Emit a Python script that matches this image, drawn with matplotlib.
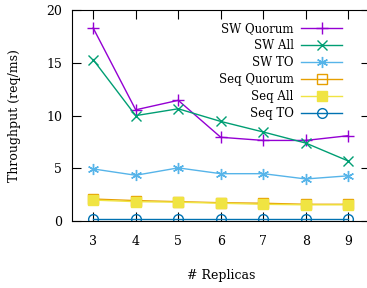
import matplotlib
matplotlib.use("Agg")
import matplotlib.pyplot as plt

plt.rcParams['font.family'] = ['DejaVu Serif']

replicas = [3, 4, 5, 6, 7, 8, 9]
sw_quorum = [18.3, 10.55, 11.45, 7.95, 7.65, 7.65, 8.1]
sw_all = [15.3, 10.0, 10.65, 9.45, 8.45, 7.4, 5.7]
sw_to = [4.95, 4.35, 5.05, 4.5, 4.5, 4.0, 4.3]
seq_quorum = [2.1, 1.95, 1.85, 1.75, 1.7, 1.6, 1.6]
seq_all = [2.0, 1.85, 1.8, 1.7, 1.6, 1.55, 1.55]
seq_to = [0.2, 0.2, 0.2, 0.2, 0.2, 0.2, 0.2]

yticks = [0, 5, 10, 15, 20]

fig = plt.figure(figsize=(3.67, 2.88), dpi=100)
# right border lies just outside the picture, as in the original
ax = fig.add_axes([0.196, 0.232, 0.811, 0.733])
ax.spines['right'].set_visible(False)

ax.plot(replicas, sw_quorum, color='#9400d3', lw=1, marker='+', ms=8, mew=1, label='SW Quorum')
ax.plot(replicas, sw_all, color='#009e73', lw=1, marker='x', ms=7, mew=1, label='SW All')
ax.plot(replicas, sw_to, color='#56b4e9', lw=1, marker=(6, 2, 0), ms=8, mew=1, label='SW TO')
ax.plot(replicas, seq_quorum, color='#e69f00', lw=1, marker='s', ms=7, mew=1,
        mfc='none', label='Seq Quorum')
ax.plot(replicas, seq_all, color='#f0e442', lw=1, marker='s', ms=7, mew=1, label='Seq All')
ax.plot(replicas, seq_to, color='#0072b2', lw=1, marker='o', ms=7, mew=1,
        mfc='none', label='Seq TO')

ax.set_xlim(2.5, 9.5)
ax.set_ylim(0, 20)
ax.set_xticks(replicas)
ax.set_yticks(yticks)
ax.tick_params(direction='in', length=6.5, width=0.8, top=True, right=True,
               labelsize=9, pad=7)
ax.tick_params(axis='x', pad=10)
ax.set_xlabel('# Replicas', fontsize=9, labelpad=15)
ax.set_ylabel('Throughput (req/ms)', fontsize=9, labelpad=18)

ax.legend(loc='upper right', bbox_to_anchor=(0.94, 0.99), frameon=False,
          markerfirst=False, fontsize=8.5, handlelength=3.5, labelspacing=0.35,
          borderpad=0.3, handletextpad=0.6)

fig.savefig('out.png', dpi=100)
